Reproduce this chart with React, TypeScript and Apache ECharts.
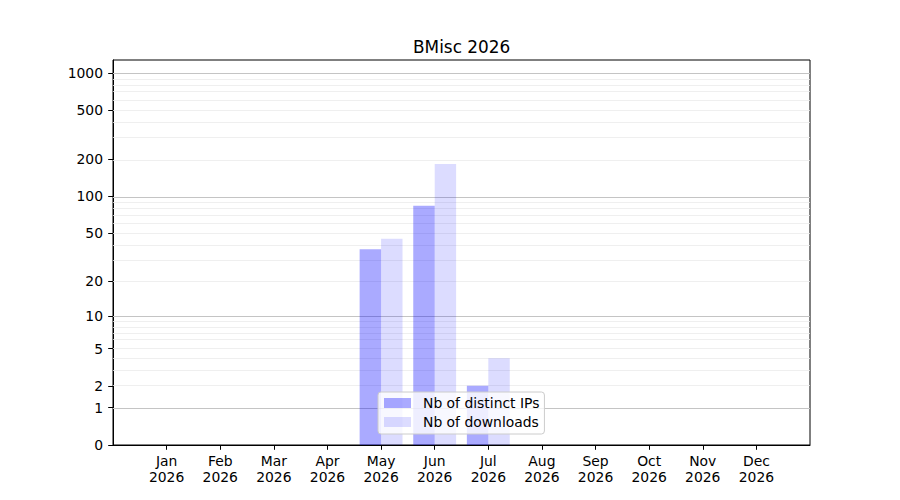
import React, { useEffect, useRef } from 'react';
import * as echarts from 'echarts';

const chartTitle = 'BMisc 2026';
const year = '2026';
const months = ['Jan', 'Feb', 'Mar', 'Apr', 'May', 'Jun', 'Jul', 'Aug', 'Sep', 'Oct', 'Nov', 'Dec'];
const distinctIPs = [0, 0, 0, 0, 37, 84, 2, 0, 0, 0, 0, 0];
const downloads = [0, 0, 0, 0, 45, 184, 4, 0, 0, 0, 0, 0];
const seriesNames = ['Nb of distinct IPs', 'Nb of downloads'];
const yTickValues = [0, 1, 2, 5, 10, 20, 50, 100, 200, 500, 1000];
const majorGridValues = [1, 10, 100, 1000];
const minorGridValues = [2, 3, 4, 5, 6, 7, 8, 9, 20, 30, 40, 50, 60, 70, 80, 90, 200, 300, 400, 500, 600, 700, 800, 900];
const yMaxValue = 1273;

// symmetric-log style transform: log10(v + 1)
const T = (v: number) => Math.log10(v + 1);
const invT = (t: number) => Math.round(Math.pow(10, t) - 1);

const FONT = 'DejaVu Sans';

export default function App() {
  const ref = useRef<HTMLDivElement>(null);
  useEffect(() => {
    if (!ref.current) return;
    const chart = echarts.init(ref.current, null, { renderer: 'svg' });
    const cats = ['', ...months.map((m) => `${m}\n${year}`), ''];
    const pad = (arr: number[]) => [null, ...arr.map((v) => T(v)), null];
    const gridLines = [
      ...minorGridValues.map((v) => ({ yAxis: T(v), lineStyle: { color: '#ebebeb', width: 0.8, type: 'solid' } })),
      ...majorGridValues.map((v) => ({ yAxis: T(v), lineStyle: { color: '#c4c4c4', width: 1, type: 'solid' } })),
    ];
    chart.setOption({
      animation: false,
      backgroundColor: '#fff',
      title: {
        text: chartTitle,
        left: 408,
        top: 33,
        textStyle: { fontFamily: FONT, fontSize: 16.9, fontWeight: 'normal', color: '#000' },
      },
      grid: {
        left: 113,
        right: 90,
        top: 60,
        bottom: 55,
        show: true,
        borderColor: '#000',
        borderWidth: 1,
        containLabel: false,
      },
      legend: {
        orient: 'vertical',
        left: 378,
        top: 392,
        padding: [4, 5, 5, 6],
        itemGap: 5,
        itemWidth: 27,
        itemHeight: 10,
        icon: 'rect',
        backgroundColor: 'rgba(255,255,255,0.8)',
        borderColor: '#cccccc',
        borderWidth: 1,
        borderRadius: 3,
        textStyle: { fontFamily: FONT, fontSize: 13.9, color: '#000', padding: [0, 0, 0, 7] },
        data: seriesNames,
      },
      xAxis: {
        type: 'category',
        data: cats,
        boundaryGap: false,
        axisLine: { show: true, lineStyle: { color: '#000', width: 1 } },
        axisTick: {
          show: true,
          length: 4.8,
          interval: (_i: number, v: string) => v !== '',
          lineStyle: { color: '#000', width: 1 },
        },
        axisLabel: {
          interval: 0,
          margin: 8,
          fontFamily: FONT,
          fontSize: 13.9,
          lineHeight: 16,
          color: '#000',
        },
        splitLine: { show: false },
      },
      yAxis: {
        type: 'value',
        min: 0,
        max: T(yMaxValue),
        axisLine: { show: true, lineStyle: { color: '#000', width: 1 } },
        axisTick: {
          show: true,
          length: 4.8,
          customValues: yTickValues.map(T),
          lineStyle: { color: '#000', width: 1 },
        },
        axisLabel: {
          customValues: yTickValues.map(T),
          formatter: (v: number) => String(invT(v)),
          margin: 10,
          fontFamily: FONT,
          fontSize: 13.9,
          color: '#000',
        },
        splitLine: { show: false },
      },
      series: [
        {
          name: seriesNames[0],
          type: 'bar',
          data: pad(distinctIPs),
          barWidth: '40%',
          barGap: '0%',
          z: 2,
          itemStyle: { color: 'rgba(0,0,255,0.333)' },
          emphasis: { disabled: true },
          markLine: {
            silent: true,
            symbol: ['none', 'none'],
            label: { show: false },
            z: 1,
            emphasis: { disabled: true },
            data: gridLines,
          },
        },
        {
          name: seriesNames[1],
          type: 'bar',
          data: pad(downloads),
          barWidth: '40%',
          barGap: '0%',
          z: 2,
          itemStyle: { color: 'rgba(0,0,255,0.137)' },
          emphasis: { disabled: true },
        },
      ],
    });
    return () => chart.dispose();
  }, []);
  return (
    <div
      ref={ref}
      style={{ position: 'fixed', left: 0, top: 0, width: 900, height: 500, background: '#fff' }}
    />
  );
}
